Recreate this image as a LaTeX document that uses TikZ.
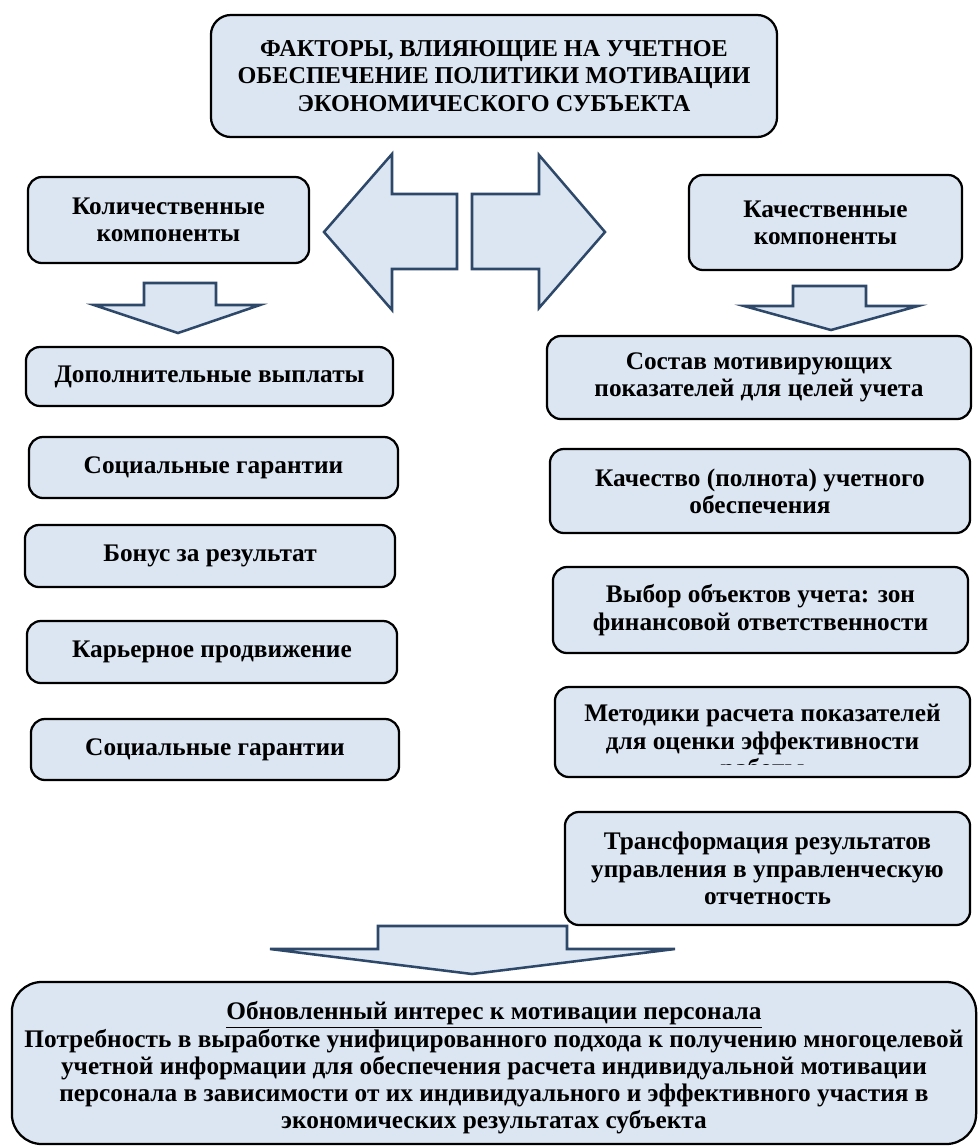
\documentclass[tikz,border=0pt]{standalone}
\usepackage{fontspec}
\setmainfont{Liberation Serif}
\definecolor{boxfill}{HTML}{DCE6F2}
\definecolor{arrowline}{RGB}{45,72,105}
\begin{document}
\begin{tikzpicture}[x=0.025cm,y=-0.025cm,
 box/.style={draw,line width=1.6pt,rounded corners=0.35cm,fill=boxfill,align=center,inner sep=2pt,font=\fontsize{18}{19.4}\selectfont\bfseries},
 boxtext/.style={align=center,inner sep=0pt,font=\fontsize{18}{19.4}\selectfont\bfseries},
 blockarrow/.style={draw=arrowline,line width=1.8pt,fill=boxfill,line join=miter}]
 \useasboundingbox (0,0) rectangle (979,1146);
 % top
 \node(F)[box,rounded corners=0.5cm,minimum width=14.15cm,minimum height=3.05cm,font=\fontsize{17.2}{19.6}\selectfont\bfseries] at (494,76){ФАКТОРЫ, ВЛИЯЮЩИЕ НА УЧЕТНОЕ\\ОБЕСПЕЧЕНИЕ ПОЛИТИКИ МОТИВАЦИИ\\ЭКОНОМИЧЕСКОГО СУБЪЕКТА};
 \node(Q)[box,minimum width=7.025cm,minimum height=2.15cm] at (168.5,220){Количественные\\компоненты};
 \node(K)[box,minimum width=6.825cm,minimum height=2.375cm] at (825.5,222.5){Качественные\\компоненты};
 \draw[blockarrow](324,232)--(392,154)--(392,194)--(457,194)--(457,269)--(392,269)--(392,310)--cycle;
 \draw[blockarrow](605,232)--(539,155)--(539,194)--(472,194)--(472,269)--(539,269)--(539,308)--cycle;
 \draw[blockarrow](178,333)--(94,305)--(144,305)--(144,283)--(216,283)--(216,305)--(260,305)--cycle;
 \draw[blockarrow](831,330)--(744,306)--(793,306)--(793,286)--(866,286)--(866,306)--(918,306)--cycle;
 % left column
 \node(L1)[box,minimum width=9.175cm,minimum height=1.475cm] at (209.5,376.5){Дополнительные выплаты};
 \node(L2)[box,minimum width=9.225cm,minimum height=1.525cm] at (213.5,467.5){Социальные гарантии};
 \node(L3)[box,minimum width=9.25cm,minimum height=1.55cm] at (210,556){Бонус за результат};
 \node(L4)[box,minimum width=9.25cm,minimum height=1.55cm] at (212,652){Карьерное продвижение};
 \node(L5)[box,minimum width=9.2cm,minimum height=1.525cm] at (215,749.5){Социальные гарантии};
 % right column
 \node(R1)[box,minimum width=10.6cm,minimum height=2.075cm] at (759,377.5){Состав мотивирующих\\показателей для целей учета};
 \node(R2)[box,minimum width=10.5cm,minimum height=2.1cm] at (760,491){Качество (полнота) учетного\\обеспечения};
 \node(R3)[box,minimum width=10.375cm,minimum height=2.15cm] at (760.5,610){Выбор объектов учета: зон\\финансовой ответственности};
 \node(R4)[box,minimum width=10.375cm,minimum height=2.25cm] at (762.5,732){};
 \begin{scope}
  \clip ([yshift=0.35cm]R4.south west) rectangle (R4.north east);
  \node(R4t)[boxtext] at (762.5,743){Методики расчета показателей\\для оценки эффективности\\работы};
 \end{scope}
 \node(R5)[box,minimum width=10.125cm,minimum height=2.825cm] at (767.5,868.5){Трансформация результатов\\управления в управленческую\\отчетность};
 % bottom
 \draw[blockarrow](472,974)--(270,949)--(378,949)--(378,926)--(567,926)--(567,949)--(675,949)--cycle;
 \node(B)[box,rounded corners=0.75cm,minimum width=24.1cm,minimum height=4.05cm] at (494,1063){};
 \node(Bt)[boxtext] at (494,1068){\underline{Обновленный интерес к мотивации персонала}\\Потребность в выработке унифицированного подхода к получению многоцелевой\\учетной информации для обеспечения расчета индивидуальной мотивации\\персонала в зависимости от их индивидуального и эффективного участия в\\экономических результатах субъекта};
\end{tikzpicture}
\end{document}
